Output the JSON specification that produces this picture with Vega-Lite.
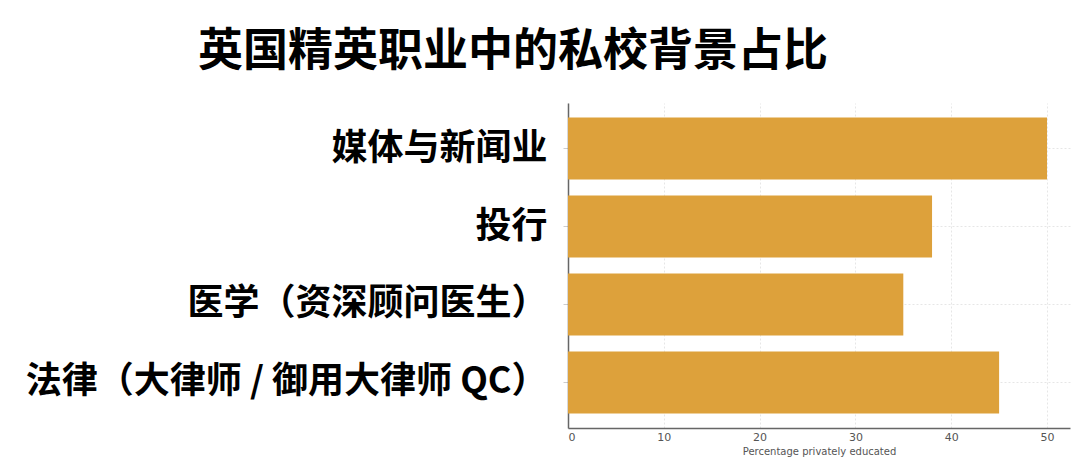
{
  "$schema": "https://vega.github.io/schema/vega-lite/v6.json",
  "autosize": "none",
  "width": 502,
  "height": 325,
  "padding": {"left": 568, "top": 103, "right": 10, "bottom": 41},
  "background": "white",
  "title": {
    "text": "英国精英职业中的私校背景占比",
    "font": "Noto Sans CJK SC",
    "fontSize": 45,
    "fontWeight": "bold",
    "color": "black",
    "anchor": "start",
    "frame": "group",
    "dx": -370,
    "offset": 28
  },
  "data": {
    "values": [
      {"career": "媒体与新闻业", "pct": 50},
      {"career": "投行", "pct": 38},
      {"career": "医学（资深顾问医生）", "pct": 35},
      {"career": "法律（大律师 / 御用大律师 QC）", "pct": 45}
    ]
  },
  "mark": {"type": "bar", "color": "#dda13b"},
  "encoding": {
    "y": {
      "field": "career",
      "type": "nominal",
      "sort": null,
      "scale": {"paddingInner": 0.205, "paddingOuter": 0.186},
      "axis": {
        "title": null,
        "labelFont": "Noto Sans CJK SC",
        "labelFontSize": 36,
        "labelFontWeight": "bold",
        "labelColor": "black",
        "labelLimit": 0,
        "labelPadding": 16,
        "tickSize": 5,
        "tickColor": "#cccccc",
        "bandPosition": 0.5,
        "grid": true,
        "gridColor": "#e6e6e6",
        "gridDash": [2, 2],
        "domainColor": "#666666",
        "domainWidth": 1.5
      }
    },
    "x": {
      "field": "pct",
      "type": "quantitative",
      "scale": {"domain": [0, 52.4], "nice": false},
      "axis": {
        "title": "Percentage privately educated",
        "titleFont": "DejaVu Sans",
        "titleFontSize": 10,
        "titleFontWeight": "normal",
        "titleColor": "#555555",
        "titlePadding": 4,
        "values": [0, 10, 20, 30, 40, 50],
        "labelFont": "DejaVu Sans",
        "labelFontSize": 11,
        "labelColor": "#555555",
        "labelPadding": 3,
        "tickSize": 0,
        "grid": true,
        "gridColor": "#e6e6e6",
        "gridDash": [2, 2],
        "domainColor": "#666666",
        "domainWidth": 1.5
      }
    }
  },
  "config": {"view": {"stroke": null}}
}
